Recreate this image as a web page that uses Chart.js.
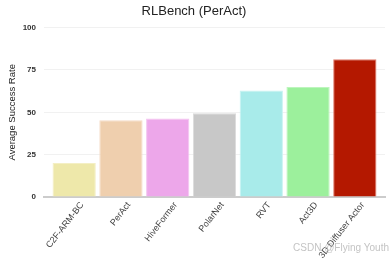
<!DOCTYPE html>
<html>
<head>
<meta charset="utf-8">
<script src="https://cdn.jsdelivr.net/npm/chart.js@4"></script>
<style>
  html, body { margin: 0; padding: 0; background: #fff; }
  #wrap { width: 392px; height: 258px; }
</style>
</head>
<body>
<div id="wrap"><canvas id="myChart" width="392" height="258"></canvas></div>
<script>
const methods = ['C2F-ARM-BC', 'PerAct', 'HiveFormer', 'PolarNet', 'RVT', 'Act3D', '3D Diffuser Actor'];
const successRate = [20.1, 45.3, 46.4, 49.4, 62.9, 65.0, 81.3];
const barColors = ['#eee8aa', '#efcfae', '#eda7ea', '#c8c8c8', '#a8ebea', '#9cf09c', '#b41800'];
const edgeColors = ['#f4efc4', '#f5dcc6', '#f3c2f0', '#dadada', '#c6f3f2', '#bdf5bd', '#e07a6a'];
const yTicks = [0, 25, 50, 75, 100];

const ctx = document.getElementById('myChart').getContext('2d');

// watermark in the bottom right corner
const watermark = {
  id: 'watermark',
  afterDraw(chart) {
    const c = chart.ctx;
    c.save();
    c.font = '10px "Liberation Sans", Arial, sans-serif';
    c.fillStyle = '#c4c4c4';
    c.textAlign = 'right';
    c.textBaseline = 'alphabetic';
    c.fillText('CSDN @Flying Youth', 389, 251);
    c.restore();
  }
};

const data = {
  datasets: [{
    label: 'Average Success Rate',
    data: successRate.map((v, i) => ({ x: i, y: v })),
    backgroundColor: barColors,
    borderColor: edgeColors,
    borderWidth: 1,
    barPercentage: 1,
    categoryPercentage: 0.925
  }]
};

const config = {
  type: 'bar',
  data: data,
  options: {
    responsive: false,
    animation: false,
    layout: { padding: { left: 3, right: 7, top: 0, bottom: 0 } },
    plugins: {
      legend: { display: false },
      tooltip: { enabled: false },
      title: {
        display: true,
        text: 'RLBench (PerAct)',
        color: '#222',
        font: { family: '"Liberation Sans", Arial, sans-serif', size: 13, weight: 'normal' },
        padding: { top: 4, bottom: 8 }
      }
    },
    scales: {
      x: {
        type: 'linear',
        min: -0.645,
        max: 6.645,
        offset: false,
        grid: { display: false, drawTicks: false },
        border: { color: '#cccccc', width: 2 },
        // labels sit a little right of each bar centre, as in the source chart
        afterBuildTicks: (axis) => { axis.ticks = methods.map((m, i) => ({ value: i + 0.17 })); },
        afterFit: (axis) => { axis.height = 61; },
        ticks: {
          autoSkip: false,
          minRotation: 52,
          maxRotation: 52,
          padding: 3,
          color: '#444',
          font: { family: '"Liberation Sans", Arial, sans-serif', size: 9 },
          callback: (v) => methods[Math.round(v)]
        }
      },
      y: {
        min: 0,
        max: 100,
        afterBuildTicks: (axis) => { axis.ticks = yTicks.map(v => ({ value: v })); },
        afterFit: (axis) => { axis.width = 41; },
        grid: { color: '#f1f1f1', drawTicks: false },
        border: { display: false },
        ticks: {
          padding: 8,
          color: '#333',
          font: { family: '"Liberation Sans", Arial, sans-serif', size: 8, weight: 'bold' }
        },
        title: {
          display: true,
          text: 'Average Success Rate',
          color: '#222',
          padding: { top: 4, bottom: 3 },
          font: { family: '"Liberation Sans Narrow", "Liberation Sans", Arial, sans-serif', size: 9.5 }
        }
      }
    }
  },
  plugins: [watermark]
};

const chart = new Chart(ctx, config);
</script>
</body>
</html>
